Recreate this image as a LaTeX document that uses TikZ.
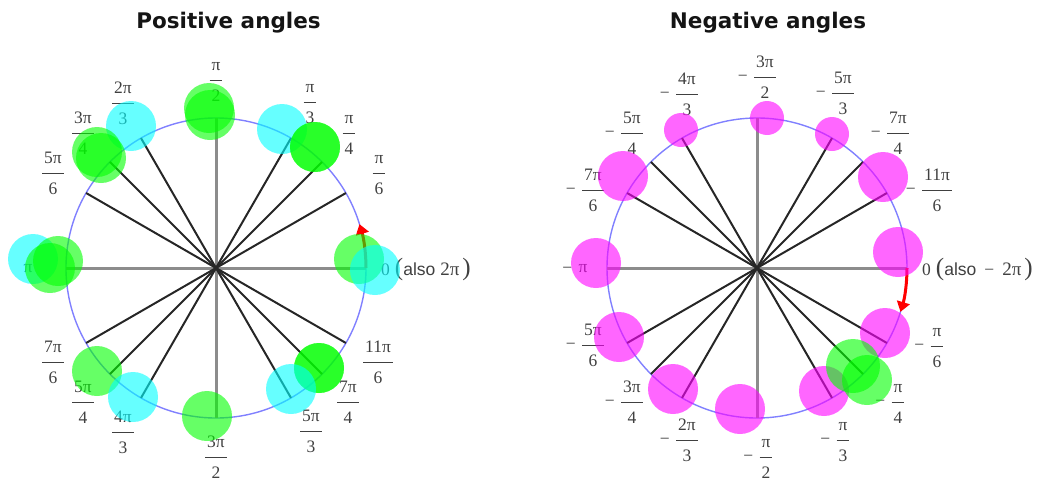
\documentclass[tikz,border=0pt]{standalone}
\usepackage{fontspec}
\setmainfont{Liberation Serif}
\setsansfont{Liberation Sans}
\newfontfamily\titlefont{DejaVu Sans}
\usetikzlibrary{arrows.meta,calc}
\definecolor{labgray}{RGB}{64,64,64}
\definecolor{circblue}{RGB}{128,128,255}
\definecolor{axgray}{RGB}{140,140,140}
\definecolor{titlecol}{RGB}{20,20,20}
\definecolor{pgreen}{RGB}{0,255,0}
\definecolor{pcyan}{RGB}{0,255,255}
\definecolor{pmag}{RGB}{255,0,255}
\definecolor{pred}{RGB}{255,0,0}
\newcommand\fr[2]{{\renewcommand\arraystretch{1.43}\setlength\arrayrulewidth{0.9pt}\begin{tabular}{@{\hspace{2pt}}c@{\hspace{2pt}}}#1\\\hline #2\end{tabular}}}
\newcommand\bigp[1]{{\fontsize{25}{25}\selectfont#1}}
\tikzset{
  lab/.style={inner sep=0pt, text=labgray, font=\fontsize{17.5}{21}\selectfont},
  ttl/.style={inner sep=0pt, text=titlecol, font=\titlefont\bfseries\fontsize{21.5}{26}\selectfont},
  circ/.style={draw=circblue, line width=1.4pt},
  axisline/.style={draw=axgray, line width=3pt},
  spoke/.style={draw=black!85, line width=2pt},
  redarrow/.style={draw=pred, line width=3pt, -{Triangle[length=10pt,width=13pt]}},
  gdisc/.style={fill=pgreen, fill opacity=0.6},
  cdisc/.style={fill=pcyan, fill opacity=0.6},
  mdisc/.style={fill=pmag, fill opacity=0.6}
}
\newcommand\neglab[3]{%
  \node[lab] (#1) at (#2) {#3};
  \node[lab, anchor=base east] (#1m) at ([xshift=-6pt,yshift=-4.4pt]#1.west) {−};}
\begin{document}
\begin{tikzpicture}[x=1pt,y=-1pt]
\useasboundingbox (0,0) rectangle (1043,482);
% titles
\node[ttl, anchor=base] (tpos) at (228.5,28.3) {Positive angles};
\node[ttl, anchor=base] (tneg) at (768,28.3) {Negative angles};
% ---------------- left circle
\coordinate (L) at (216,268);
\draw[circ] (L) circle[radius=150];
\foreach \a in {0,90,180,270} \draw[axisline] (L) -- ++(\a:150);
\foreach \a in {30,45,60,120,135,150,210,225,240,300,315,330} \draw[spoke] (L) -- ++(\a:150);
\draw[redarrow] ($(L)+(150,0)$) arc[start angle=0, end angle=-17, radius=150];
% left labels
\node[lab] (p2)  at (216,80)  {\fr{π}{2}};
\node[lab] (tp3) at (123,103) {\fr{2π}{3}};
\node[lab] (tp4) at (83,133)  {\fr{3π}{4}};
\node[lab] (fp6) at (53,173)  {\fr{5π}{6}};
\node[lab] (p3)  at (310,102) {\fr{π}{3}};
\node[lab] (p4)  at (349,133) {\fr{π}{4}};
\node[lab] (p6)  at (379,173) {\fr{π}{6}};
\node[lab] (pi)  at (28,269)  {π};
\node[lab] (sp6) at (53,362)  {\fr{7π}{6}};
\node[lab] (fp4) at (83,402)  {\fr{5π}{4}};
\node[lab] (qp3) at (123,432) {\fr{4π}{3}};
\node[lab] (hp2) at (216,457) {\fr{3π}{2}};
\node[lab] (vp3) at (311,431) {\fr{5π}{3}};
\node[lab] (sp4) at (348,402) {\fr{7π}{4}};
\node[lab] (ep6) at (378,362) {\fr{11π}{6}};
\node[lab, anchor=base west] (zeroL) at (381,275) {0\hspace{5pt}\bigp{(}{\sffamily\fontsize{17.5}{20}\selectfont also}\hspace{5pt}{\fontsize{19}{20}\selectfont 2π}\hspace{3pt}\bigp{)}};
% left discs
\fill[gdisc] (209,108) circle[radius=25];
\fill[gdisc] (210,115) circle[radius=25];
\fill[cdisc] (131,126) circle[radius=25];
\fill[gdisc] (97,152) circle[radius=25];
\fill[gdisc] (101,158) circle[radius=25];
\fill[cdisc] (282,129) circle[radius=25];
\fill[gdisc] (315,147) circle[radius=25];
\fill[gdisc] (315,147) circle[radius=25];
\fill[cdisc] (33,259) circle[radius=25];
\fill[gdisc] (58,261) circle[radius=25];
\fill[gdisc] (50,268) circle[radius=25];
\fill[gdisc] (359,259) circle[radius=25];
\fill[cdisc] (375,270) circle[radius=25];
\fill[gdisc] (97,371) circle[radius=25];
\fill[cdisc] (133,397) circle[radius=25];
\fill[gdisc] (207,416) circle[radius=25];
\fill[gdisc] (319,368) circle[radius=25];
\fill[gdisc] (319,368) circle[radius=25];
\fill[cdisc] (291,389) circle[radius=25];
% ---------------- right circle
\coordinate (R) at (757,268);
\draw[circ] (R) circle[radius=150];
\foreach \a in {0,90,180,270} \draw[axisline] (R) -- ++(\a:150);
\foreach \a in {30,45,60,120,135,150,210,225,240,300,315,330} \draw[spoke] (R) -- ++(\a:150);
\draw[redarrow] ($(R)+(150,0)$) arc[start angle=0, end angle=17, radius=150];
% right labels
\neglab{n3p2}{765,77}{\fr{3π}{2}}
\neglab{n4p3}{687,94}{\fr{4π}{3}}
\neglab{n5p4}{632,133}{\fr{5π}{4}}
\neglab{n7p6}{593,190}{\fr{7π}{6}}
\neglab{n5p3}{843,93}{\fr{5π}{3}}
\neglab{n7p4}{898,133}{\fr{7π}{4}}
\neglab{n11p6}{937,190}{\fr{11π}{6}}
\neglab{npi}{583,269}{π}
\neglab{n5p6}{593,345}{\fr{5π}{6}}
\neglab{n3p4}{632,402}{\fr{3π}{4}}
\neglab{n2p3}{687,440}{\fr{2π}{3}}
\neglab{np2}{766,457}{\fr{π}{2}}
\neglab{np6}{937,346}{\fr{π}{6}}
\neglab{np4}{898,402}{\fr{π}{4}}
\neglab{np3}{843,440}{\fr{π}{3}}
\node[lab, anchor=base west] (zeroR) at (922,275) {0\hspace{5pt}\bigp{(}{\sffamily\fontsize{17.5}{20}\selectfont also}\hspace{8pt}−\hspace{8pt}{\fontsize{19}{20}\selectfont 2π}\hspace{3pt}\bigp{)}};
% right discs
\fill[mdisc] (767,118) circle[radius=17];
\fill[mdisc] (681,130) circle[radius=17];
\fill[mdisc] (832,134) circle[radius=17];
\fill[mdisc] (623,176) circle[radius=25];
\fill[mdisc] (883,177) circle[radius=25];
\fill[mdisc] (596,263) circle[radius=25];
\fill[mdisc] (619,337) circle[radius=25];
\fill[mdisc] (673,389) circle[radius=25];
\fill[mdisc] (740,409) circle[radius=25];
\fill[mdisc] (898,252) circle[radius=25];
\fill[mdisc] (885,333) circle[radius=25];
\fill[mdisc] (824,391) circle[radius=25];
\fill[gdisc] (853,366) circle[radius=27];
\fill[gdisc] (867,380) circle[radius=25];
\end{tikzpicture}
\end{document}
